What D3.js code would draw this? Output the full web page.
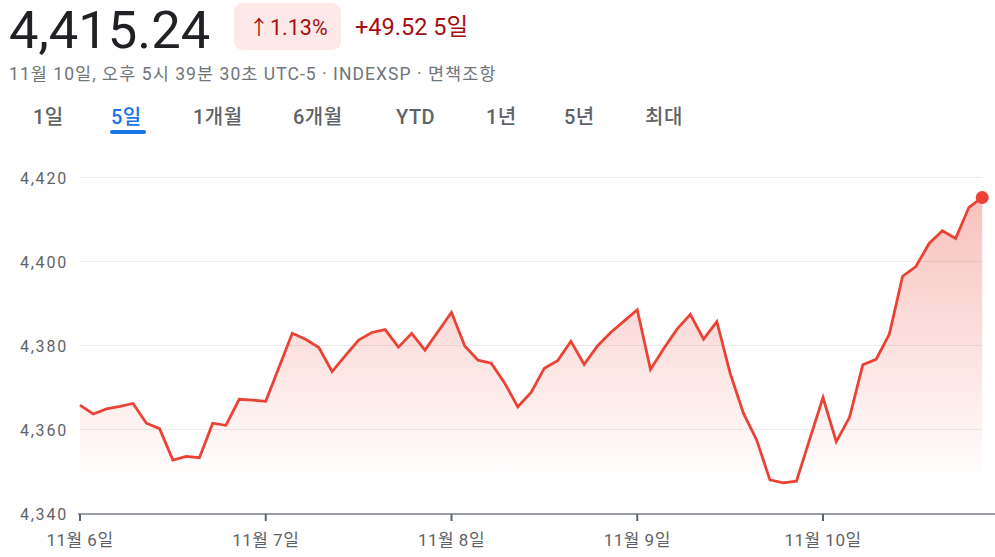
<!DOCTYPE html>
<html><head><meta charset="utf-8">
<script src="https://cdn.jsdelivr.net/npm/d3@7"></script>
<style>
html,body{margin:0;padding:0;background:#fff;width:995px;height:557px;overflow:hidden;}
svg{display:block;font-family:Roboto,"Noto Sans CJK KR",Arial,sans-serif;}
</style></head>
<body><svg id="c" width="995" height="557"></svg>
<script>
// Data
const dayLabels = ["11월 6일","11월 7일","11월 8일","11월 9일","11월 10일"];
const pointsPerDay = 14;
const yTicks = [4340, 4360, 4380, 4400, 4420];
const values = [
  4365.8, 4363.7, 4364.9, 4365.5, 4366.2, 4361.5, 4360.2, 4352.7, 4353.6, 4353.3, 4361.5, 4361.0, 4367.2, 4367.0,
  4366.7, 4374.8, 4382.9, 4381.5, 4379.5, 4373.8, 4377.6, 4381.3, 4383.1, 4383.8, 4379.6, 4382.9, 4378.9, 4383.4,
  4387.9, 4379.9, 4376.5, 4375.8, 4371.1, 4365.4, 4368.8, 4374.6, 4376.4, 4381.0, 4375.5, 4379.9, 4383.1, 4385.8,
  4388.5, 4374.3, 4379.3, 4383.9, 4387.4, 4381.5, 4385.7, 4373.4, 4363.9, 4357.5, 4348.0, 4347.3, 4347.7, 4357.7,
  4367.6, 4357.1, 4362.9, 4375.4, 4376.7, 4382.7, 4396.5, 4398.8, 4404.3, 4407.3, 4405.5, 4412.9, 4415.24
];
const headerPrice = "4,415.24";
const headerPct = "1.13%";
const headerChange = "+49.52 5일";
const subtitle = "11월 10일, 오후 5시 39분 30초 UTC-5 · INDEXSP · 면책조항";
const tabs = ["1일","5일","1개월","6개월","YTD","1년","5년","최대"];
const tabX = [33, 111, 193, 293, 396, 486, 564, 645];
const activeTab = 1;

const svg = d3.select("#c");
const red = "#ea4335";

// Header
svg.append("text").attr("x", 9).attr("y", 48).attr("font-size", 52.5).attr("fill", "#202124")
  .attr("font-family", "Roboto, Arial, sans-serif").text(headerPrice);
svg.append("rect").attr("x", 234).attr("y", 3).attr("width", 107).attr("height", 47).attr("rx", 9).attr("fill", "#fce8e6");
svg.append("text").attr("x", 249).attr("y", 35).attr("font-size", 20).attr("fill", "#a50e0e").text("↑");
svg.append("text").attr("x", 270).attr("y", 35).attr("font-size", 21.5).attr("fill", "#a50e0e").text(headerPct);
svg.append("text").attr("x", 355).attr("y", 35).attr("font-size", 23.5).attr("fill", "#a50e0e").text(headerChange);
svg.append("text").attr("x", 9).attr("y", 80).attr("font-size", 17.5).attr("letter-spacing", 1.05)
  .attr("fill", "#70757a").text(subtitle);

tabs.forEach((t, i) => {
  svg.append("text").attr("x", tabX[i]).attr("y", 124).attr("font-size", 20).attr("font-weight", 500)
    .attr("letter-spacing", 0.5)
    .attr("fill", i === activeTab ? "#1a73e8" : "#5f6368").text(t);
});
svg.append("rect").attr("x", 110).attr("y", 130).attr("width", 36).attr("height", 4).attr("rx", 2).attr("fill", "#1a73e8");

// Scales
const n = values.length;
const x = d3.scaleLinear().domain([0, pointsPerDay * dayLabels.length]).range([80, 80 + 185.75 * dayLabels.length]);
const y = d3.scaleLinear().domain([4340, 4420]).range([513.5, 177.5]);

// Gridlines
svg.append("g").selectAll("line").data(yTicks.slice(1)).join("line")
  .attr("x1", 80).attr("x2", x(n - 1)).attr("y1", d => y(d)).attr("y2", d => y(d))
  .attr("stroke", "#ececec").attr("stroke-width", 1);

// Y labels
svg.append("g").selectAll("text").data(yTicks).join("text")
  .attr("x", 68).attr("y", d => y(d) + 6).attr("text-anchor", "end")
  .attr("font-size", 16).attr("letter-spacing", 1.8).attr("fill", "#5f6368").text(d => d3.format(",")(d));

// Area gradient
const defs = svg.append("defs");
const grad = defs.append("linearGradient").attr("id", "g1").attr("x1", 0).attr("x2", 0).attr("y1", 0).attr("y2", 1);
grad.append("stop").attr("offset", "0%").attr("stop-color", red).attr("stop-opacity", 0.33);
grad.append("stop").attr("offset", "100%").attr("stop-color", red).attr("stop-opacity", 0.0);

const minV = d3.min(values);
const area = d3.area().x((d, i) => x(i)).y0(y(minV)).y1(d => y(d));
svg.append("path").datum(values).attr("d", area).attr("fill", "url(#g1)");

// X axis
const xAxisG = svg.append("g").attr("transform", "translate(0,514)");
xAxisG.append("line").attr("x1", 78).attr("x2", 995).attr("stroke", "#9aa0a6").attr("stroke-width", 2);
const tickIdx = dayLabels.map((d, i) => i * pointsPerDay);
xAxisG.selectAll("line.t").data(tickIdx).join("line").attr("class", "t")
  .attr("x1", d => x(d)).attr("x2", d => x(d)).attr("y1", 0).attr("y2", 7)
  .attr("stroke", "#5f6368").attr("stroke-width", 2);
xAxisG.selectAll("text").data(dayLabels).join("text")
  .attr("x", (d, i) => x(tickIdx[i])).attr("y", 32).attr("text-anchor", "middle")
  .attr("font-size", 17).attr("letter-spacing", 0.5).attr("fill", "#5f6368").text(d => d);

// Line
const line = d3.line().x((d, i) => x(i)).y(d => y(d));
svg.append("path").datum(values).attr("d", line).attr("fill", "none")
  .attr("stroke", red).attr("stroke-width", 2.8).attr("stroke-linejoin", "miter");

// End dot
svg.append("circle").attr("cx", x(n - 1)).attr("cy", y(values[n - 1])).attr("r", 6.5).attr("fill", red);
</script></body></html>
